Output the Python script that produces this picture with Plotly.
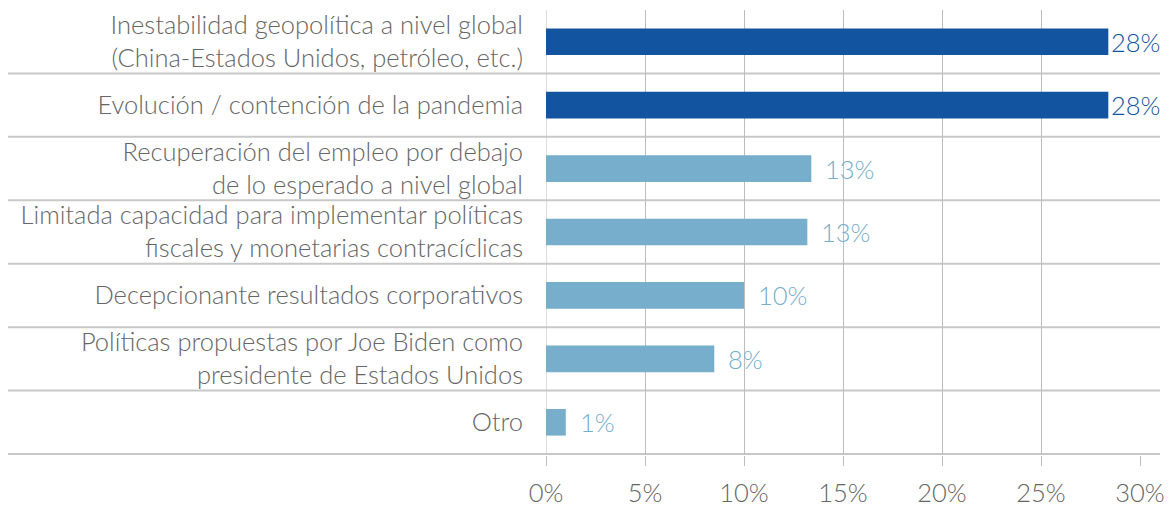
import plotly.graph_objects as go

categories = [
    "Inestabilidad geopolítica a nivel global<br>(China-Estados Unidos, petróleo, etc.)",
    "Evolución / contención de la pandemia",
    "Recuperación del empleo por debajo<br>de lo esperado a nivel global",
    "Limitada capacidad para implementar políticas<br>fiscales y monetarias contracíclicas",
    "Decepcionante resultados corporativos",
    "Políticas propuestas por Joe Biden como<br>presidente de Estados Unidos",
    "Otro",
]
values = [28.4, 28.4, 13.4, 13.2, 10.0, 8.5, 1.0]
value_labels = ["28%", "28%", "13%", "13%", "10%", "8%", "1%"]
tick_vals = [0, 5, 10, 15, 20, 25, 30]
tick_text = ["0%", "5%", "10%", "15%", "20%", "25%", "30%"]

DARK = "#1254A0"
LIGHT = "#76AECC"
colors = [DARK if v > 20 else LIGHT for v in values]

FONT = "Lato"
FS = 25.5

W, H = 1167, 498
L, R, T, B = 538, 35, 2, 51
PW = W - L - R

fig = go.Figure()
fig.add_trace(go.Bar(
    y=categories, x=values, orientation="h",
    marker=dict(color=colors, line=dict(width=0)),
    width=0.42, hoverinfo="skip",
))

for c, v, t, col in zip(categories, values, value_labels, colors):
    fig.add_annotation(
        x=v, y=c, xref="x", yref="y", text=t, showarrow=False,
        xanchor="left", yanchor="middle", xshift=1 if v > 20 else 12,
        font=dict(family=FONT, size=FS, color=col, weight=300),
    )

# horizontal separators between rows (extend beyond plot area)
n = len(categories)
for i in range(n):
    fig.add_shape(
        type="line", xref="paper", yref="y",
        x0=-L / PW, x1=1 + 20 / PW, y0=i + 0.5, y1=i + 0.5,
        line=dict(color="#c8c8c8", width=2), layer="below",
    )

fig.update_layout(
    width=W, height=H,
    margin=dict(l=L, r=R, t=T, b=B, autoexpand=False),
    plot_bgcolor="white", paper_bgcolor="white",
    showlegend=False, bargap=0.58,
    font=dict(family=FONT, size=FS, color="#666666", weight=300),
)
fig.update_xaxes(
    range=[0, 30], tickvals=tick_vals, ticktext=tick_text,
    showgrid=True, gridcolor="#bdbdbd", gridwidth=1,
    zeroline=False, showline=False,
    ticks="outside", ticklen=10, tickcolor="#bdbdbd", tickwidth=1,
    ticklabelstandoff=5, automargin=False,
    tickfont=dict(family=FONT, size=FS, color="#666666", weight=300),
    fixedrange=True,
)
fig.update_yaxes(
    categoryorder="array", categoryarray=categories, autorange="reversed",
    showgrid=False, zeroline=False, showline=False, ticks="",
    ticklabelstandoff=22, automargin=False,
    tickfont=dict(family=FONT, size=FS, color="#666666", weight=300),
    fixedrange=True,
)
# vertical zero line
fig.add_shape(type="line", xref="x", yref="paper", x0=0, x1=0, y0=0, y1=1,
              line=dict(color="#bdbdbd", width=1), layer="below")

fig.write_html("out.html")
